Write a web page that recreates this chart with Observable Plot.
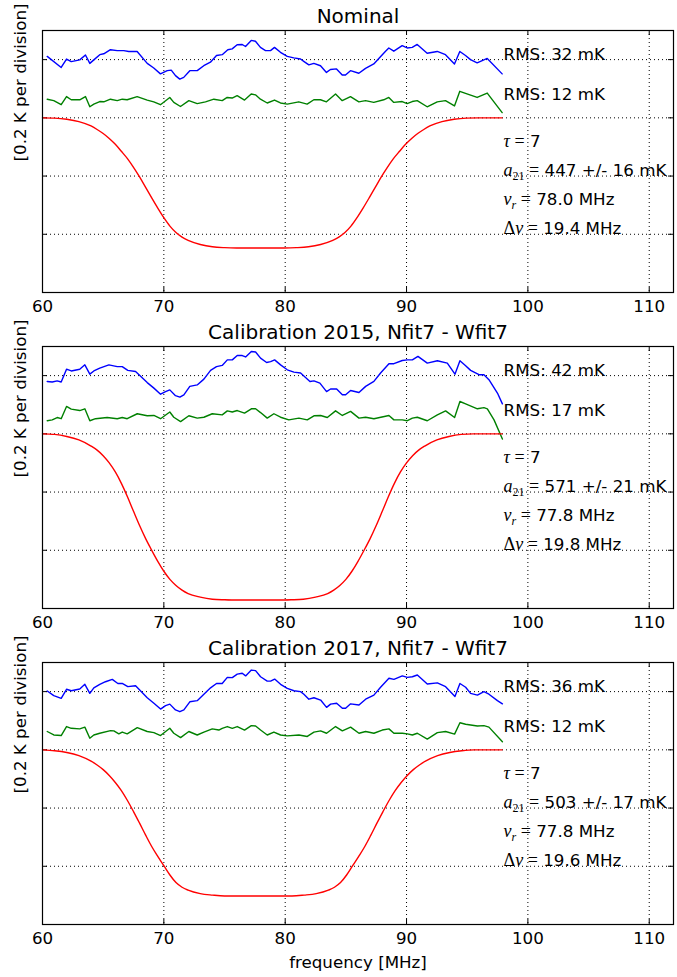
<!DOCTYPE html>
<html><head><meta charset="utf-8">
<script src="https://cdn.jsdelivr.net/npm/d3@7"></script>
<script src="https://cdn.jsdelivr.net/npm/@observablehq/plot@0.6"></script>
<style>
body{margin:0;background:#fff;}
#chart{position:relative;width:677px;height:977px;background:#fff;}
#chart svg{position:absolute;left:0;}
#chart text{white-space:pre;}
</style></head><body><div id="chart"></div>
<script>
// ---------- data ----------
const titles = ["Nominal", "Calibration 2015, Nfit7 - Wfit7", "Calibration 2017, Nfit7 - Wfit7"];
const xTicks = [60, 70, 80, 90, 100, 110];
const yTicks = [-0.4, -0.2, 0, 0.2];
const xDomain = [60, 112];
const yDomain = [-0.6, 0.3];
const xLabel = "frequency [MHz]";
const yLabel = "[0.2 K per division]";
const rmsBlue = ["RMS: 32 mK", "RMS: 42 mK", "RMS: 36 mK"];
const rmsGreen = ["RMS: 12 mK", "RMS: 17 mK", "RMS: 12 mK"];
const tauVals = ["7", "7", "7"];
const ampVals = ["447 +/- 16 mK", "571 +/- 21 mK", "503 +/- 17 mK"];
const nuVals = ["78.0 MHz", "77.8 MHz", "77.8 MHz"];
const widthVals = ["19.4 MHz", "19.8 MHz", "19.6 MHz"];

// [frequency MHz, temperature K (as plotted, incl. offset)]
const nominalBlue = [[60.39,0.211],[61.54,0.173],[61.98,0.202],[62.37,0.193],[63.07,0.199],[63.54,0.216],[63.90,0.187],[64.23,0.199],[64.72,0.217],[65.05,0.220],[65.60,0.234],[66.16,0.231],[66.70,0.231],[67.11,0.228],[67.80,0.228],[68.63,0.187],[69.17,0.171],[69.72,0.151],[70.28,0.162],[70.61,0.164],[70.96,0.145],[71.31,0.133],[71.64,0.139],[72.14,0.162],[72.75,0.162],[73.29,0.179],[73.84,0.191],[74.34,0.214],[74.81,0.217],[75.27,0.234],[75.63,0.237],[76.04,0.251],[76.46,0.252],[76.73,0.245],[77.20,0.266],[77.55,0.263],[77.96,0.242],[78.38,0.231],[78.79,0.231],[79.12,0.242],[79.61,0.225],[80.17,0.211],[80.71,0.206],[81.26,0.202],[81.53,0.194],[81.95,0.182],[82.36,0.187],[82.91,0.179],[83.40,0.156],[83.73,0.166],[84.23,0.168],[84.70,0.147],[84.97,0.147],[85.38,0.162],[86.07,0.153],[86.62,0.170],[87.30,0.185],[87.85,0.210],[88.27,0.229],[88.54,0.240],[88.95,0.229],[89.64,0.248],[90.05,0.240],[90.47,0.242],[90.88,0.252],[91.70,0.222],[92.53,0.228],[93.21,0.217],[93.95,0.185],[94.39,0.228],[94.86,0.214],[95.27,0.200],[95.82,0.189],[96.65,0.204],[97.88,0.151]];
const nominalGreen = [[60.39,0.064],[60.93,0.059],[61.54,0.045],[61.98,0.073],[62.37,0.062],[63.07,0.062],[63.54,0.073],[63.90,0.038],[64.23,0.047],[64.72,0.056],[65.05,0.055],[65.60,0.064],[66.16,0.059],[66.57,0.064],[66.98,0.062],[67.80,0.073],[68.63,0.061],[69.17,0.055],[69.72,0.045],[70.49,0.070],[70.82,0.053],[71.37,0.039],[72.06,0.059],[72.75,0.049],[73.43,0.055],[74.12,0.064],[74.81,0.059],[75.22,0.070],[75.63,0.068],[76.04,0.076],[76.65,0.061],[77.20,0.082],[77.55,0.079],[77.96,0.064],[78.52,0.051],[79.12,0.061],[79.61,0.051],[80.17,0.047],[81.12,0.055],[81.81,0.047],[82.36,0.062],[82.91,0.062],[83.40,0.055],[84.15,0.082],[84.70,0.059],[85.38,0.073],[86.07,0.055],[86.62,0.059],[87.30,0.053],[88.12,0.062],[88.54,0.070],[88.95,0.053],[89.64,0.056],[90.05,0.049],[90.47,0.056],[90.88,0.059],[91.70,0.038],[92.53,0.055],[93.21,0.059],[93.95,0.041],[94.39,0.091],[94.86,0.084],[95.82,0.070],[96.65,0.085],[97.88,0.018]];
const nominalRed = [[60.00,0],[61.00,-0.001],[62.00,-0.005],[63.00,-0.013],[64.00,-0.028],[64.50,-0.040],[65.00,-0.054],[65.50,-0.071],[66.00,-0.091],[66.50,-0.115],[67.00,-0.140],[67.50,-0.170],[68.00,-0.203],[68.50,-0.239],[69.00,-0.275],[69.50,-0.310],[70.00,-0.343],[70.50,-0.372],[71.00,-0.394],[71.50,-0.410],[72.00,-0.421],[73.00,-0.435],[74.00,-0.443],[75.00,-0.446],[76.00,-0.447],[77.00,-0.447],[77.96,-0.447],[78.92,-0.447],[79.92,-0.447],[80.92,-0.446],[81.92,-0.443],[82.92,-0.435],[83.92,-0.421],[84.42,-0.410],[84.92,-0.394],[85.42,-0.372],[85.92,-0.343],[86.42,-0.310],[86.92,-0.275],[87.42,-0.239],[87.92,-0.203],[88.42,-0.170],[88.92,-0.140],[89.42,-0.115],[89.92,-0.091],[90.42,-0.071],[90.92,-0.054],[91.42,-0.040],[91.92,-0.028],[92.92,-0.013],[93.92,-0.005],[94.92,-0.001],[95.92,0],[97.88,0]];

const cal2015Blue = [[60.39,0.180],[60.80,0.178],[61.21,0.182],[61.54,0.178],[61.98,0.222],[62.37,0.216],[63.07,0.222],[63.49,0.237],[63.90,0.205],[64.23,0.216],[64.72,0.226],[65.47,0.237],[66.16,0.231],[66.57,0.231],[67.03,0.218],[67.67,0.214],[68.63,0.176],[69.18,0.157],[69.73,0.136],[70.14,0.145],[70.49,0.151],[70.96,0.131],[71.32,0.126],[71.65,0.134],[72.14,0.163],[72.75,0.168],[73.30,0.188],[73.85,0.218],[74.34,0.231],[74.81,0.235],[75.23,0.254],[75.64,0.254],[76.05,0.269],[76.46,0.269],[76.74,0.264],[77.21,0.283],[77.56,0.281],[77.97,0.260],[78.47,0.245],[78.80,0.248],[79.13,0.254],[79.62,0.237],[80.17,0.220],[80.72,0.212],[81.27,0.209],[81.54,0.199],[82.04,0.180],[82.37,0.182],[82.86,0.174],[83.41,0.145],[83.74,0.154],[84.24,0.154],[84.71,0.134],[84.98,0.134],[85.39,0.149],[86.08,0.142],[86.63,0.163],[87.31,0.180],[87.86,0.209],[88.55,0.241],[88.96,0.241],[89.65,0.252],[90.07,0.254],[90.48,0.254],[90.94,0.266],[91.71,0.243],[92.54,0.251],[93.36,0.243],[93.99,0.205],[94.40,0.251],[94.87,0.234],[95.28,0.218],[95.97,0.203],[96.38,0.203],[96.79,0.186],[97.49,0.140],[97.90,0.103]];
const cal2015Green = [[60.39,0.045],[60.80,0.048],[61.21,0.056],[61.54,0.052],[61.98,0.094],[62.37,0.085],[63.07,0.080],[63.49,0.086],[63.90,0.045],[64.37,0.052],[65.33,0.056],[66.16,0.052],[66.57,0.056],[66.98,0.052],[67.81,0.069],[68.63,0.062],[69.18,0.063],[69.73,0.052],[70.49,0.075],[70.82,0.057],[71.38,0.042],[72.06,0.062],[72.75,0.054],[73.30,0.057],[73.99,0.069],[74.81,0.065],[75.23,0.079],[75.64,0.075],[76.05,0.080],[76.65,0.071],[77.21,0.086],[77.56,0.086],[77.97,0.073],[78.52,0.054],[79.07,0.069],[79.62,0.057],[80.30,0.048],[81.13,0.054],[81.82,0.048],[82.37,0.062],[82.92,0.063],[83.47,0.056],[84.15,0.079],[84.71,0.063],[85.39,0.077],[86.08,0.054],[86.63,0.057],[87.31,0.052],[88.55,0.063],[88.96,0.048],[89.65,0.048],[90.07,0.045],[90.48,0.054],[90.89,0.057],[91.71,0.045],[92.54,0.065],[93.22,0.079],[93.96,0.056],[94.40,0.111],[94.87,0.103],[95.84,0.086],[96.38,0.090],[96.66,0.086],[97.21,0.048],[97.90,-0.018]];
const cal2015Red = [[60.00,0],[61.00,-0.002],[62.00,-0.009],[63.00,-0.021],[64.00,-0.042],[64.50,-0.056],[65.00,-0.075],[65.50,-0.100],[66.00,-0.131],[66.50,-0.170],[67.00,-0.216],[67.50,-0.266],[68.00,-0.315],[68.50,-0.360],[69.00,-0.400],[69.50,-0.438],[70.00,-0.472],[70.50,-0.500],[71.00,-0.521],[71.50,-0.537],[72.00,-0.549],[73.00,-0.561],[74.00,-0.568],[75.00,-0.570],[76.00,-0.571],[77.00,-0.571],[77.75,-0.571],[78.50,-0.571],[79.50,-0.571],[80.50,-0.570],[81.50,-0.568],[82.50,-0.561],[83.50,-0.549],[84.00,-0.537],[84.50,-0.521],[85.00,-0.500],[85.50,-0.472],[86.00,-0.438],[86.50,-0.400],[87.00,-0.360],[87.50,-0.315],[88.00,-0.266],[88.50,-0.216],[89.00,-0.170],[89.50,-0.131],[90.00,-0.100],[90.50,-0.075],[91.00,-0.056],[91.50,-0.042],[92.50,-0.021],[93.50,-0.009],[94.50,-0.002],[95.50,0],[97.88,0]];

const cal2017Blue = [[60.39,0.202],[60.93,0.186],[61.54,0.177],[61.98,0.208],[62.37,0.203],[63.07,0.209],[63.49,0.225],[63.90,0.194],[64.23,0.213],[64.72,0.225],[65.19,0.234],[65.75,0.242],[66.21,0.228],[66.57,0.228],[67.03,0.217],[67.67,0.220],[68.63,0.179],[69.18,0.160],[69.73,0.140],[70.14,0.152],[70.49,0.157],[70.96,0.137],[71.32,0.131],[71.65,0.137],[72.14,0.165],[72.75,0.169],[73.30,0.191],[73.85,0.213],[74.34,0.228],[74.81,0.228],[75.23,0.249],[75.64,0.248],[76.05,0.260],[76.46,0.263],[76.74,0.254],[77.21,0.274],[77.56,0.272],[77.97,0.251],[78.52,0.236],[78.80,0.236],[79.13,0.243],[79.62,0.225],[80.17,0.211],[80.72,0.203],[81.27,0.200],[81.54,0.191],[81.95,0.174],[82.37,0.179],[82.92,0.171],[83.41,0.146],[83.74,0.157],[84.24,0.160],[84.71,0.143],[84.98,0.143],[85.39,0.158],[86.08,0.154],[86.63,0.174],[87.31,0.188],[87.86,0.215],[88.55,0.246],[88.96,0.242],[89.65,0.254],[90.07,0.249],[90.48,0.251],[90.89,0.257],[91.71,0.226],[92.54,0.230],[93.22,0.217],[93.99,0.183],[94.40,0.228],[94.87,0.215],[95.28,0.194],[95.84,0.188],[96.38,0.200],[96.79,0.191],[97.49,0.169],[97.90,0.158]];
const cal2017Green = [[60.39,0.063],[60.93,0.051],[61.54,0.049],[61.98,0.080],[62.37,0.074],[63.07,0.072],[63.49,0.078],[63.90,0.040],[64.23,0.051],[64.72,0.057],[65.61,0.066],[65.88,0.065],[66.29,0.055],[66.57,0.061],[66.98,0.055],[67.81,0.076],[68.63,0.063],[69.18,0.059],[69.73,0.049],[70.49,0.074],[70.82,0.057],[71.38,0.042],[72.06,0.063],[72.75,0.051],[73.30,0.061],[73.99,0.072],[74.53,0.068],[74.81,0.074],[75.23,0.080],[75.64,0.074],[76.05,0.080],[76.65,0.068],[77.21,0.083],[77.56,0.082],[77.97,0.068],[78.52,0.051],[79.07,0.061],[79.62,0.051],[80.17,0.048],[81.13,0.051],[81.82,0.046],[82.37,0.061],[82.92,0.065],[83.41,0.057],[84.15,0.080],[84.71,0.065],[85.39,0.078],[86.08,0.057],[86.63,0.063],[87.31,0.057],[88.00,0.068],[88.55,0.072],[88.96,0.057],[89.65,0.057],[90.07,0.055],[90.48,0.051],[90.89,0.057],[91.71,0.037],[92.54,0.059],[93.22,0.063],[93.96,0.054],[94.40,0.093],[94.87,0.088],[95.84,0.082],[96.38,0.083],[96.79,0.078],[97.90,0.028]];
const cal2017Red = [[60.00,0],[61.00,-0.003],[62.00,-0.009],[63.00,-0.020],[64.00,-0.039],[64.50,-0.052],[65.00,-0.068],[65.50,-0.088],[66.00,-0.112],[66.50,-0.140],[67.00,-0.174],[67.50,-0.212],[68.00,-0.252],[68.50,-0.293],[69.00,-0.332],[69.50,-0.366],[70.00,-0.398],[70.50,-0.430],[71.00,-0.456],[71.50,-0.472],[72.00,-0.482],[73.00,-0.494],[74.00,-0.499],[75.00,-0.502],[76.00,-0.502],[77.00,-0.502],[77.78,-0.502],[78.56,-0.502],[79.56,-0.502],[80.56,-0.502],[81.56,-0.499],[82.56,-0.494],[83.56,-0.482],[84.06,-0.472],[84.56,-0.456],[85.06,-0.430],[85.56,-0.398],[86.06,-0.366],[86.56,-0.332],[87.06,-0.293],[87.56,-0.252],[88.06,-0.212],[88.56,-0.174],[89.06,-0.140],[89.56,-0.112],[90.06,-0.088],[90.56,-0.068],[91.06,-0.052],[91.56,-0.039],[92.56,-0.020],[93.56,-0.009],[94.56,-0.003],[95.56,0],[97.88,0]];

const blues = [nominalBlue, cal2015Blue, cal2017Blue];
const greens = [nominalGreen, cal2015Green, cal2017Green];
const reds = [nominalRed, cal2015Red, cal2017Red];

// ---------- drawing ----------
const FONT = "'DejaVu Sans', sans-serif";
const MATH = "'Liberation Serif', 'DejaVu Serif', serif";
const W = 677, ML = 42, MR = 4, MT = 30, FH = 262;
const FW = W - ML - MR;
const chart = document.getElementById("chart");
const dot = {stroke: "black", strokeOpacity: 1, strokeWidth: 1, strokeDasharray: "1,3"};

function segsFor(i) {
  return [
    [{m: "τ", it: 1}, {m: " ="}, {s: " " + tauVals[i]}],
    [{m: "a", it: 1}, {sub: "21"}, {m: " ="}, {s: " " + ampVals[i]}],
    [{m: "ν", it: 1}, {sub: "r", it: 1}, {m: " ="}, {s: " " + nuVals[i]}],
    [{m: "Δ"}, {m: "ν", it: 1}, {m: " ="}, {s: " " + widthVals[i]}]
  ];
}
function plain(segs) { return segs.map(s => s.m ?? s.sub ?? s.s).join(""); }

function richen(el, segs) {
  while (el.firstChild) el.removeChild(el.firstChild);
  let shift = 0;
  for (const seg of segs) {
    const t = document.createElementNS("http://www.w3.org/2000/svg", "tspan");
    const isSub = seg.sub !== undefined;
    const target = isSub ? 4 : 0;
    if (target !== shift) { t.setAttribute("dy", target - shift); shift = target; }
    if (seg.m !== undefined || isSub) t.setAttribute("font-family", MATH);
    if (seg.it) t.setAttribute("font-style", "italic");
    if (isSub) t.setAttribute("font-size", "12px");
    if (seg.m !== undefined) t.setAttribute("font-size", "18px");
    t.textContent = seg.m ?? seg.sub ?? seg.s;
    el.appendChild(t);
  }
}

titles.forEach((title, i) => {
  const last = i === titles.length - 1;
  const MB = last ? 53 : 24;
  const H = MT + FH + MB;
  const segs = segsFor(i);
  const params = segs.map(plain);
  const paramY = [-0.1, -0.2, -0.3, -0.4];
  const svg = Plot.plot({
    width: W, height: H,
    marginTop: MT, marginBottom: MB, marginLeft: ML, marginRight: MR,
    style: {fontFamily: FONT, fontSize: "16.7px", color: "black", background: "white", overflow: "visible"},
    x: {domain: xDomain, axis: null},
    y: {domain: yDomain, axis: null},
    marks: [
      Plot.ruleX(xTicks, {x: d => d, ...dot}),
      Plot.ruleY(yTicks, {y: d => d, ...dot}),
      Plot.tickX(xTicks, {x: d => d, stroke: "black", strokeWidth: 1, insetTop: FH - 5}),
      Plot.tickX(xTicks, {x: d => d, stroke: "black", strokeWidth: 1, insetBottom: FH - 5}),
      Plot.tickY(yTicks, {y: d => d, stroke: "black", strokeWidth: 1, insetRight: FW - 5}),
      Plot.tickY(yTicks, {y: d => d, stroke: "black", strokeWidth: 1, insetLeft: FW - 5}),
      Plot.line(blues[i], {x: d => d[0], y: d => d[1], stroke: "#0000ff", strokeWidth: 1.4}),
      Plot.line(greens[i], {x: d => d[0], y: d => d[1], stroke: "#008000", strokeWidth: 1.4}),
      Plot.line(reds[i], {x: d => d[0], y: d => d[1], stroke: "#ff0000", strokeWidth: 1.4, curve: "monotone-x"}),
      Plot.frame({stroke: "black", strokeWidth: 1.2}),
      Plot.text([rmsBlue[i], rmsGreen[i]], {x: () => 98, y: (d, j) => [0.2, 0.06][j], text: d => d, textAnchor: "start", lineAnchor: "bottom", fill: "black"}),
      Plot.text(params, {x: () => 98, y: (d, j) => paramY[j], text: d => d, textAnchor: "start", lineAnchor: "bottom", fill: "black", ariaLabel: "params"}),
      Plot.text(xTicks, {x: d => d, text: d => String(d), frameAnchor: "bottom", lineAnchor: "top", dy: 8, fill: "black"}),
      Plot.text([title], {frameAnchor: "top", lineAnchor: "bottom", dy: -8, fontSize: 20, fill: "black"}),
      Plot.text([yLabel], {frameAnchor: "left", rotate: -90, dx: -22, fill: "black"}),
      ...(last ? [Plot.text([xLabel], {frameAnchor: "bottom", lineAnchor: "middle", dy: 38, fill: "black"})] : [])
    ]
  });
  svg.style.top = (i * (MT + FH + 24)) + "px";
  chart.appendChild(svg);
  const map = new Map(params.map((p, j) => [p, segs[j]]));
  svg.querySelectorAll("text").forEach(el => {
    const s = map.get(el.textContent);
    if (s) richen(el, s);
  });
});
</script></body></html>
